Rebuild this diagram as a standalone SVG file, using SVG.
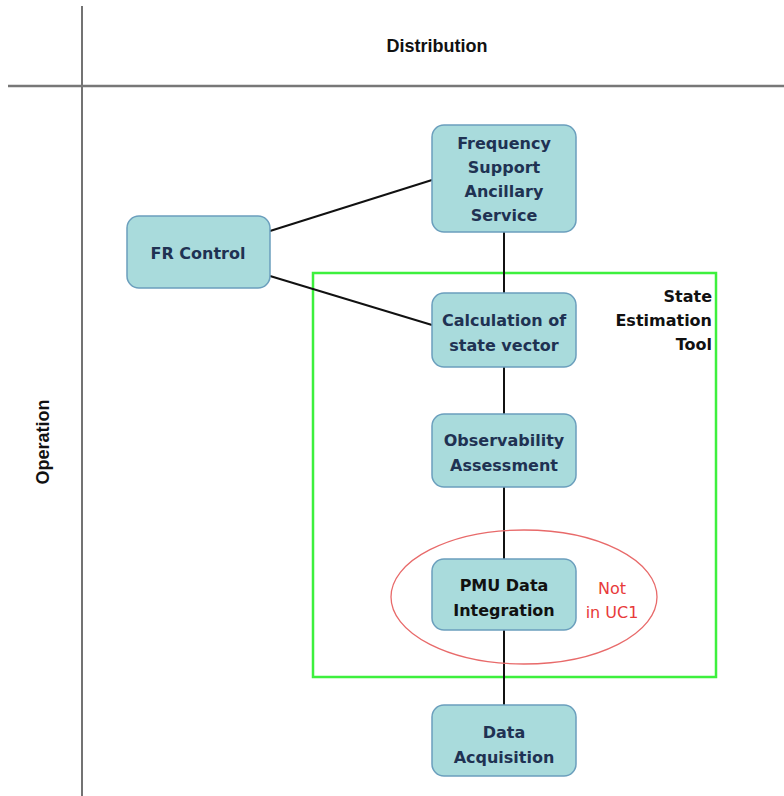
<svg xmlns="http://www.w3.org/2000/svg" width="784" height="796" viewBox="0 0 784 796">
  <style>
    .node rect { fill: #a9dbdc; stroke: #6b9fbd; stroke-width: 1.5; }
    .node text { font-family: "DejaVu Sans", "Noto Sans", sans-serif; font-weight: bold; font-size: 16px; fill: #1f3253; text-anchor: middle; }
    .axis { font-family: "Liberation Sans", Arial, sans-serif; font-weight: bold; font-size: 18px; fill: #111; text-anchor: middle; }
    .conn line { stroke: #111; stroke-width: 2; }
    .note { font-family: "DejaVu Sans", "Noto Sans", sans-serif; font-size: 16px; }
  </style>

  <rect width="784" height="796" fill="#fff"/>

  <!-- swimlane frame -->
  <line x1="82" y1="6" x2="82" y2="796" stroke="#444" stroke-width="1.5"/>
  <line x1="8" y1="86" x2="784" y2="86" stroke="#777" stroke-width="2.5"/>
  <text class="axis" x="437" y="52">Distribution</text>
  <text class="axis" transform="translate(49,442) rotate(-90)">Operation</text>

  <!-- state estimation boundary -->
  <rect x="313" y="273" width="403" height="404" fill="none" stroke="#3df03d" stroke-width="2.5"/>
  <g class="note" fill="#111" text-anchor="end" font-weight="bold">
    <text x="712" y="302">State</text>
    <text x="712" y="326">Estimation</text>
    <text x="712" y="350">Tool</text>
  </g>

  <!-- connectors -->
  <g class="conn">
    <line x1="504" y1="232" x2="504" y2="705"/>
    <line x1="270" y1="231" x2="432" y2="180"/>
    <line x1="270" y1="276" x2="432" y2="325"/>
  </g>

  <!-- out-of-scope marker -->
  <ellipse cx="524" cy="597" rx="133" ry="67" fill="none" stroke="#e86a6a" stroke-width="1.3"/>
  <g class="note" fill="#e83a3a" text-anchor="middle" font-size="17px">
    <text x="612" y="594">Not</text>
    <text x="612" y="618">in UC1</text>
  </g>

  <g id="freq-support" class="node">
    <rect x="432" y="125" width="144" height="107" rx="12"/>
    <text x="504" y="149">Frequency</text>
    <text x="504" y="173">Support</text>
    <text x="504" y="197">Ancillary</text>
    <text x="504" y="221">Service</text>
  </g>

  <g id="fr-control" class="node">
    <rect x="127" y="216" width="143" height="72" rx="12"/>
    <text x="198" y="259">FR Control</text>
  </g>

  <g id="calc-state" class="node">
    <rect x="432" y="293" width="144" height="74" rx="12"/>
    <text x="504" y="326">Calculation of</text>
    <text x="504" y="351">state vector</text>
  </g>

  <g id="observability" class="node">
    <rect x="432" y="414" width="144" height="73" rx="12"/>
    <text x="504" y="446">Observability</text>
    <text x="504" y="471">Assessment</text>
  </g>

  <g id="pmu" class="node">
    <rect x="432" y="559" width="144" height="71" rx="12"/>
    <text x="504" y="591" style="fill:#111">PMU Data</text>
    <text x="504" y="616" style="fill:#111">Integration</text>
  </g>

  <g id="data-acq" class="node">
    <rect x="432" y="705" width="144" height="71" rx="12"/>
    <text x="504" y="738">Data</text>
    <text x="504" y="763">Acquisition</text>
  </g>
</svg>
